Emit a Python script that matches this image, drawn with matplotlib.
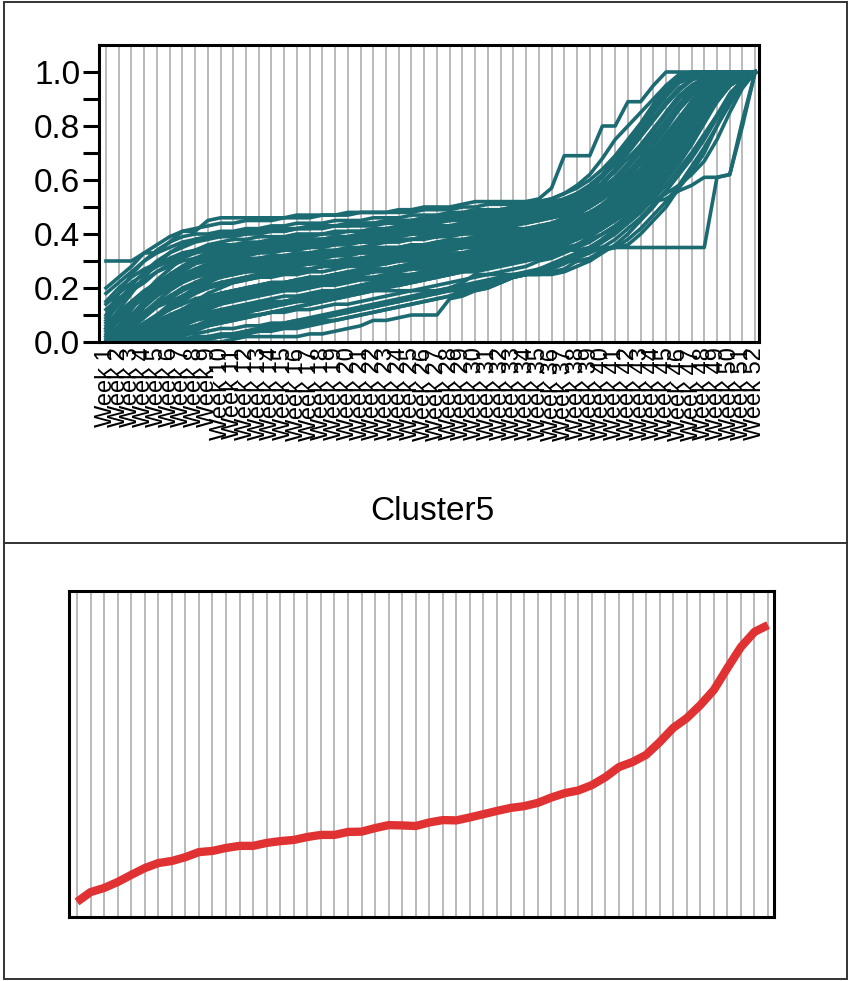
import matplotlib
matplotlib.use("Agg")
import matplotlib.pyplot as plt
from matplotlib.patches import Rectangle
from matplotlib.lines import Line2D

plt.rcParams["font.family"] = ["Liberation Sans", "DejaVu Sans"]

weeks = [f"Week {i}" for i in range(1, 53)]
cluster_title = "Cluster5"

# Normalised cumulative profiles of the cluster members (hundredths, weeks 1-52,
# one row of 13 weeks per line)
member_profiles = [
    [30, 30, 30, 33, 33, 37, 41, 41, 45, 46, 46, 46, 46,
     46, 46, 47, 47, 47, 47, 48, 48, 48, 48, 49, 49, 50,
     50, 50, 51, 52, 52, 52, 52, 52, 53, 57, 69, 69, 69,
     80, 80, 89, 89, 95, 100, 100, 100, 100, 100, 100, 100, 100],
    [20, 24, 28, 33, 36, 39, 41, 42, 43, 44, 44, 45, 45,
     45, 46, 46, 46, 47, 47, 47, 48, 48, 48, 48, 48, 49,
     49, 49, 50, 50, 51, 51, 51, 52, 52, 53, 55, 58, 62,
     68, 75, 80, 85, 90, 95, 97, 98, 98, 99, 99, 100, 100],
    [10, 18, 25, 30, 34, 37, 39, 40, 40, 41, 41, 42, 42,
     43, 43, 44, 44, 44, 45, 45, 45, 46, 46, 46, 47, 47,
     47, 48, 48, 49, 49, 49, 50, 50, 51, 52, 53, 55, 58,
     62, 68, 74, 80, 86, 92, 96, 98, 98, 98, 98, 99, 100],
    [5, 12, 18, 24, 29, 33, 36, 38, 39, 39, 40, 40, 41,
     41, 41, 42, 42, 42, 43, 43, 43, 43, 44, 44, 44, 45,
     45, 45, 46, 46, 47, 47, 48, 48, 49, 50, 51, 52, 54,
     57, 61, 66, 72, 78, 85, 91, 95, 97, 98, 99, 99, 100],
    [0, 6, 12, 18, 23, 27, 31, 34, 36, 37, 38, 38, 39,
     39, 39, 40, 40, 40, 41, 41, 41, 41, 42, 42, 42, 43,
     43, 43, 44, 44, 45, 45, 46, 46, 47, 48, 49, 50, 52,
     55, 58, 62, 67, 73, 79, 86, 92, 96, 98, 99, 100, 100],
    [8, 14, 19, 22, 26, 29, 31, 33, 34, 35, 35, 36, 36,
     36, 37, 37, 38, 38, 38, 39, 39, 39, 40, 40, 40, 41,
     41, 42, 42, 43, 43, 44, 44, 45, 46, 47, 48, 50, 53,
     58, 64, 71, 79, 86, 93, 98, 100, 100, 100, 100, 100, 100],
    [0, 3, 8, 13, 18, 22, 26, 29, 31, 32, 33, 34, 34,
     35, 35, 35, 36, 36, 36, 37, 37, 37, 38, 38, 38, 39,
     39, 39, 40, 40, 41, 41, 42, 42, 43, 44, 45, 46, 48,
     50, 53, 57, 61, 66, 72, 78, 84, 90, 95, 98, 99, 100],
    [2, 6, 10, 14, 18, 21, 24, 26, 28, 29, 30, 31, 31,
     32, 32, 33, 33, 33, 34, 34, 34, 35, 35, 35, 36, 36,
     37, 37, 38, 38, 39, 39, 40, 41, 42, 43, 44, 45, 47,
     49, 52, 55, 59, 64, 70, 76, 83, 89, 94, 97, 99, 100],
    [0, 2, 5, 9, 13, 16, 19, 22, 24, 26, 27, 28, 29,
     29, 30, 30, 31, 31, 32, 32, 33, 33, 33, 34, 34, 35,
     35, 36, 36, 37, 37, 38, 38, 39, 40, 41, 42, 43, 45,
     47, 50, 53, 57, 62, 68, 74, 80, 87, 93, 97, 99, 100],
    [0, 1, 3, 6, 9, 12, 15, 18, 20, 22, 23, 24, 25,
     26, 26, 27, 27, 28, 28, 29, 29, 30, 30, 31, 31, 32,
     32, 33, 33, 34, 35, 35, 36, 37, 38, 39, 40, 41, 43,
     45, 48, 51, 55, 60, 66, 72, 79, 86, 92, 96, 99, 100],
    [0, 0, 2, 4, 7, 10, 12, 14, 16, 18, 19, 20, 21,
     22, 22, 23, 24, 24, 25, 25, 26, 26, 27, 27, 28, 29,
     29, 30, 31, 31, 32, 33, 34, 35, 36, 37, 38, 40, 42,
     44, 47, 50, 54, 59, 65, 71, 78, 85, 91, 96, 99, 100],
    [0, 0, 1, 2, 4, 6, 8, 10, 12, 14, 15, 16, 17,
     18, 19, 19, 20, 21, 21, 22, 23, 23, 24, 25, 25, 26,
     27, 27, 28, 29, 30, 31, 32, 33, 34, 35, 36, 38, 40,
     42, 45, 48, 52, 57, 63, 69, 76, 83, 90, 95, 98, 100],
    [0, 0, 0, 1, 2, 3, 5, 6, 8, 9, 10, 11, 12,
     13, 14, 15, 15, 16, 17, 18, 19, 20, 21, 21, 22, 23,
     24, 25, 26, 27, 28, 29, 30, 31, 32, 33, 35, 36, 38,
     40, 43, 46, 50, 55, 61, 67, 74, 82, 89, 95, 98, 100],
    [0, 0, 0, 0, 0, 0, 0, 0, 0, 0, 1, 2, 2,
     2, 2, 2, 3, 3, 4, 5, 6, 8, 8, 9, 10, 10,
     10, 16, 17, 19, 20, 22, 24, 25, 25, 26, 27, 30, 31,
     34, 35, 36, 40, 45, 50, 57, 63, 70, 80, 90, 96, 100],
    [0, 0, 1, 1, 2, 3, 4, 5, 6, 7, 8, 9, 10,
     11, 12, 13, 14, 15, 16, 17, 18, 19, 20, 21, 22, 23,
     24, 25, 26, 27, 28, 29, 30, 31, 32, 33, 34, 34, 35,
     35, 35, 35, 35, 35, 35, 35, 35, 35, 61, 62, 82, 100],
    [0, 0, 0, 1, 1, 2, 3, 3, 4, 5, 5, 6, 6,
     7, 7, 8, 8, 9, 10, 11, 12, 13, 14, 15, 16, 17,
     18, 19, 19, 19, 20, 22, 24, 25, 25, 25, 26, 28, 30,
     33, 36, 40, 45, 50, 56, 62, 68, 75, 83, 91, 97, 100],
    [12, 16, 20, 23, 26, 28, 30, 31, 32, 33, 34, 34, 35,
     35, 36, 36, 37, 37, 38, 38, 38, 39, 39, 40, 40, 41,
     41, 42, 42, 43, 44, 44, 45, 46, 47, 48, 50, 52, 55,
     59, 64, 70, 76, 82, 88, 93, 97, 99, 100, 100, 100, 100],
    [4, 9, 14, 18, 21, 24, 27, 29, 30, 31, 32, 32, 33,
     33, 34, 34, 35, 35, 36, 36, 37, 37, 37, 38, 38, 39,
     39, 40, 40, 41, 41, 42, 43, 44, 45, 46, 47, 49, 51,
     54, 58, 63, 68, 74, 80, 86, 91, 95, 98, 99, 100, 100],
    [0, 4, 8, 11, 14, 17, 20, 22, 24, 25, 26, 27, 27,
     28, 28, 29, 29, 30, 30, 31, 31, 32, 32, 33, 33, 34,
     34, 35, 35, 36, 37, 37, 38, 39, 40, 41, 43, 44, 46,
     49, 52, 56, 61, 66, 72, 78, 85, 91, 96, 98, 99, 100],
    [0, 1, 4, 7, 10, 13, 16, 18, 20, 21, 22, 23, 24,
     24, 25, 25, 26, 26, 27, 28, 28, 29, 29, 30, 30, 31,
     31, 32, 33, 34, 34, 35, 36, 37, 38, 39, 41, 42, 44,
     47, 50, 54, 58, 63, 69, 75, 82, 88, 94, 97, 99, 100],
    [0, 0, 1, 3, 5, 8, 11, 13, 15, 17, 18, 19, 20,
     21, 21, 22, 22, 23, 24, 24, 25, 26, 26, 27, 28, 28,
     29, 30, 31, 32, 33, 34, 35, 36, 37, 38, 40, 42, 44,
     46, 49, 53, 57, 62, 68, 74, 81, 88, 94, 97, 99, 100],
    [0, 0, 0, 1, 3, 5, 7, 9, 11, 12, 13, 14, 15,
     16, 17, 17, 18, 19, 19, 20, 21, 22, 22, 23, 24, 25,
     26, 27, 28, 29, 30, 31, 32, 33, 35, 36, 38, 40, 42,
     45, 48, 52, 56, 61, 67, 73, 80, 87, 93, 97, 99, 100],
    [15, 20, 24, 27, 29, 31, 33, 34, 35, 36, 36, 37, 37,
     38, 38, 39, 39, 40, 40, 41, 41, 42, 42, 43, 43, 44,
     44, 45, 45, 46, 46, 47, 48, 49, 50, 51, 53, 55, 58,
     62, 66, 71, 77, 83, 89, 94, 97, 99, 100, 100, 100, 100],
    [6, 10, 13, 16, 19, 21, 23, 24, 25, 26, 27, 28, 28,
     29, 29, 30, 30, 31, 32, 32, 33, 33, 34, 34, 35, 35,
     36, 36, 37, 38, 38, 39, 40, 41, 42, 43, 45, 47, 50,
     53, 57, 62, 67, 73, 80, 87, 93, 97, 99, 100, 100, 100],
    [0, 2, 4, 7, 10, 12, 14, 16, 17, 18, 19, 20, 21,
     22, 22, 23, 24, 24, 25, 26, 26, 27, 27, 28, 29, 29,
     30, 31, 32, 32, 33, 34, 35, 36, 37, 38, 39, 41, 43,
     46, 49, 53, 58, 64, 70, 77, 84, 90, 95, 98, 99, 100],
    [0, 0, 0, 0, 1, 2, 3, 5, 7, 9, 10, 11, 12,
     13, 14, 15, 16, 17, 18, 19, 19, 20, 21, 22, 23, 24,
     25, 26, 27, 28, 29, 30, 31, 32, 33, 34, 36, 38, 40,
     42, 45, 49, 53, 58, 64, 71, 78, 85, 92, 96, 99, 100],
    [0, 0, 0, 0, 0, 1, 1, 2, 2, 3, 3, 4, 5,
     5, 6, 6, 7, 8, 8, 9, 10, 11, 12, 13, 14, 15,
     16, 17, 18, 20, 21, 22, 24, 25, 27, 29, 31, 33, 35,
     38, 41, 45, 49, 54, 60, 66, 73, 81, 89, 95, 98, 100],
    [0, 0, 1, 2, 3, 4, 5, 6, 7, 8, 9, 10, 10,
     11, 11, 12, 12, 13, 14, 14, 15, 16, 17, 18, 19, 20,
     21, 22, 23, 24, 25, 26, 27, 28, 30, 31, 33, 35, 37,
     40, 43, 47, 51, 56, 62, 68, 75, 83, 90, 95, 98, 100],
    [0, 1, 3, 5, 8, 10, 12, 14, 16, 18, 19, 20, 21,
     22, 22, 23, 23, 24, 25, 25, 26, 27, 27, 28, 29, 30,
     31, 31, 32, 33, 34, 35, 36, 37, 38, 39, 40, 42, 44,
     46, 48, 50, 51, 52, 53, 56, 58, 61, 61, 62, 80, 100],
    [0, 0, 0, 0, 0, 0, 0, 0, 1, 2, 3, 4, 5,
     6, 7, 8, 9, 10, 11, 12, 13, 14, 15, 16, 17, 18,
     19, 20, 21, 22, 23, 24, 25, 26, 27, 28, 30, 32, 34,
     37, 40, 44, 48, 53, 58, 64, 70, 77, 84, 91, 96, 100],
    [0, 0, 0, 0, 0, 1, 2, 4, 6, 8, 10, 12, 13,
     14, 15, 16, 17, 18, 19, 20, 21, 22, 23, 24, 25, 26,
     27, 28, 29, 30, 31, 32, 33, 34, 35, 36, 37, 39, 41,
     43, 46, 50, 55, 60, 66, 73, 80, 87, 93, 97, 99, 100],
    [18, 22, 26, 30, 33, 35, 37, 38, 39, 40, 40, 41, 41,
     42, 42, 42, 43, 43, 43, 44, 44, 44, 45, 45, 45, 46,
     46, 46, 47, 47, 48, 48, 49, 49, 50, 51, 52, 54, 57,
     61, 66, 72, 78, 85, 91, 96, 98, 99, 100, 100, 100, 100],
    [3, 8, 13, 17, 21, 25, 28, 31, 33, 34, 35, 36, 36,
     37, 37, 38, 38, 38, 39, 39, 40, 40, 40, 41, 41, 41,
     42, 42, 43, 43, 44, 44, 45, 46, 46, 47, 48, 50, 52,
     56, 60, 65, 71, 78, 84, 90, 94, 97, 99, 100, 100, 100],
    [0, 5, 10, 15, 20, 24, 27, 30, 32, 33, 34, 35, 35,
     36, 36, 37, 37, 37, 38, 38, 38, 39, 39, 39, 40, 40,
     40, 41, 41, 42, 42, 43, 44, 44, 45, 46, 47, 48, 50,
     53, 56, 60, 64, 69, 75, 81, 87, 92, 96, 98, 99, 100],
    [0, 0, 3, 6, 10, 14, 17, 20, 22, 24, 25, 26, 27,
     27, 28, 28, 29, 29, 30, 30, 31, 31, 32, 32, 33, 33,
     34, 34, 35, 35, 36, 36, 37, 38, 39, 40, 41, 43, 45,
     48, 51, 55, 60, 66, 72, 79, 86, 92, 96, 98, 99, 100],
    [0, 2, 6, 11, 15, 19, 22, 24, 26, 27, 28, 29, 30,
     30, 31, 31, 32, 32, 33, 33, 34, 34, 35, 35, 36, 36,
     37, 38, 38, 39, 40, 40, 41, 42, 43, 44, 46, 48, 50,
     53, 57, 61, 66, 71, 77, 83, 89, 94, 97, 99, 100, 100],
    [1, 4, 7, 10, 13, 15, 17, 19, 21, 22, 23, 24, 25,
     25, 26, 27, 27, 28, 28, 29, 30, 30, 31, 31, 32, 33,
     33, 34, 35, 35, 36, 37, 38, 39, 40, 41, 42, 44, 46,
     48, 51, 55, 60, 65, 71, 78, 85, 91, 95, 98, 99, 100],
    [0, 0, 0, 2, 4, 6, 9, 11, 13, 15, 16, 17, 18,
     19, 19, 20, 21, 22, 22, 23, 24, 24, 25, 26, 27, 27,
     28, 29, 30, 31, 32, 33, 34, 35, 36, 37, 39, 41, 43,
     45, 48, 52, 56, 61, 66, 72, 79, 86, 92, 96, 99, 100],
    [0, 0, 0, 0, 2, 4, 6, 8, 9, 10, 11, 12, 13,
     14, 15, 16, 16, 17, 18, 19, 20, 21, 22, 23, 24, 25,
     26, 27, 28, 29, 30, 31, 32, 33, 34, 36, 37, 39, 41,
     44, 47, 51, 55, 60, 65, 71, 77, 84, 91, 96, 99, 100],
    [0, 0, 0, 0, 0, 0, 1, 1, 2, 2, 3, 3, 4,
     4, 5, 5, 6, 7, 8, 9, 10, 11, 12, 13, 14, 15,
     16, 17, 19, 20, 22, 23, 24, 25, 26, 27, 29, 31, 33,
     35, 38, 42, 46, 51, 56, 62, 69, 76, 84, 92, 97, 100],
    [0, 0, 0, 1, 2, 3, 4, 5, 6, 7, 8, 9, 10,
     11, 12, 13, 14, 15, 16, 17, 18, 19, 19, 19, 19, 19,
     19, 20, 22, 25, 25, 25, 25, 25, 26, 28, 30, 30, 30,
     34, 35, 38, 42, 47, 52, 58, 65, 72, 80, 88, 95, 100],
    [9, 15, 21, 26, 30, 33, 35, 37, 38, 39, 39, 40, 40,
     41, 41, 42, 42, 43, 43, 43, 44, 44, 44, 45, 45, 46,
     46, 47, 47, 48, 48, 49, 50, 51, 52, 53, 55, 57, 60,
     64, 69, 75, 81, 88, 95, 99, 100, 100, 100, 100, 100, 100],
    [14, 18, 22, 25, 28, 30, 32, 33, 34, 35, 35, 36, 36,
     37, 37, 38, 38, 38, 39, 39, 40, 40, 41, 41, 42, 42,
     43, 43, 44, 45, 45, 46, 47, 48, 49, 50, 52, 54, 57,
     61, 67, 73, 80, 87, 93, 97, 99, 100, 100, 100, 100, 100],
    [0, 1, 2, 4, 6, 8, 10, 12, 14, 15, 16, 17, 18,
     19, 20, 21, 22, 23, 23, 24, 25, 26, 27, 28, 28, 29,
     30, 31, 32, 33, 34, 35, 36, 37, 38, 40, 42, 44, 47,
     50, 54, 58, 63, 68, 74, 80, 86, 92, 96, 98, 99, 100],
    [0, 0, 1, 3, 6, 9, 12, 15, 18, 20, 22, 23, 24,
     25, 26, 26, 27, 28, 29, 29, 30, 31, 31, 32, 33, 33,
     34, 35, 35, 36, 37, 38, 39, 40, 41, 42, 44, 46, 48,
     51, 55, 59, 64, 70, 76, 82, 88, 93, 97, 99, 100, 100],
    [5, 9, 13, 17, 20, 23, 25, 27, 29, 30, 31, 32, 33,
     34, 34, 35, 35, 36, 37, 37, 38, 38, 39, 40, 40, 41,
     41, 42, 43, 43, 44, 45, 46, 47, 48, 49, 51, 53, 56,
     59, 63, 68, 73, 79, 85, 91, 95, 98, 99, 100, 100, 100],
    [0, 0, 2, 4, 6, 8, 10, 12, 14, 16, 17, 18, 19,
     20, 21, 22, 23, 24, 25, 26, 27, 28, 29, 30, 31, 32,
     33, 34, 35, 36, 37, 38, 39, 40, 41, 42, 43, 44, 45,
     46, 47, 48, 50, 52, 55, 58, 62, 67, 75, 85, 94, 100],
    [0, 3, 7, 11, 14, 17, 19, 21, 23, 24, 25, 26, 26,
     27, 27, 28, 29, 29, 30, 30, 31, 32, 32, 33, 33, 34,
     35, 35, 36, 37, 37, 38, 39, 40, 41, 42, 43, 45, 47,
     50, 53, 57, 62, 67, 73, 80, 86, 92, 96, 98, 99, 100],
    [0, 0, 0, 0, 0, 0, 0, 1, 1, 2, 2, 3, 4,
     5, 6, 7, 8, 9, 10, 11, 12, 13, 14, 15, 16, 17,
     18, 19, 20, 21, 22, 23, 24, 25, 27, 28, 30, 32, 35,
     38, 42, 46, 51, 56, 62, 68, 75, 82, 89, 95, 98, 100],
    [2, 5, 9, 13, 17, 20, 23, 25, 27, 28, 29, 30, 31,
     31, 32, 32, 33, 34, 34, 35, 35, 36, 37, 37, 38, 38,
     39, 40, 40, 41, 42, 43, 44, 45, 46, 47, 48, 50, 52,
     55, 59, 63, 68, 74, 80, 87, 93, 97, 99, 100, 100, 100],
    [0, 0, 0, 1, 2, 4, 6, 8, 10, 11, 12, 13, 14,
     15, 15, 16, 17, 17, 18, 19, 19, 20, 21, 21, 22, 23,
     24, 25, 26, 26, 27, 28, 29, 30, 31, 32, 34, 36, 39,
     42, 46, 50, 54, 59, 64, 70, 76, 83, 90, 95, 98, 100],
    [0, 1, 2, 3, 5, 7, 9, 11, 13, 14, 16, 17, 18,
     19, 20, 21, 22, 22, 23, 24, 25, 26, 27, 27, 28, 29,
     30, 31, 32, 33, 33, 34, 35, 36, 37, 38, 39, 41, 43,
     46, 50, 55, 61, 68, 75, 82, 89, 94, 97, 99, 100, 100],
    [7, 11, 15, 19, 22, 25, 28, 30, 31, 32, 33, 33, 34,
     34, 35, 35, 36, 36, 37, 37, 38, 38, 39, 39, 40, 40,
     41, 41, 42, 42, 43, 44, 45, 46, 47, 48, 49, 51, 53,
     56, 60, 65, 70, 76, 82, 88, 93, 97, 99, 100, 100, 100],
]

# Cluster centroid (weeks 1-52)
centroid = [0.051, 0.084, 0.098, 0.118, 0.142, 0.165, 0.182, 0.189, 0.202, 0.219, 0.223, 0.233, 0.240,
            0.240, 0.250, 0.256, 0.260, 0.270, 0.277, 0.277, 0.287, 0.288, 0.300, 0.310, 0.309, 0.307,
            0.319, 0.327, 0.326, 0.336, 0.347, 0.358, 0.368, 0.374, 0.385, 0.403, 0.418, 0.427, 0.445,
            0.472, 0.506, 0.523, 0.547, 0.590, 0.638, 0.671, 0.715, 0.766, 0.840, 0.911, 0.962, 0.985]

x = list(range(1, 53))
fig = plt.figure(figsize=(8.49, 9.81), dpi=100)

# Panel frames
fig.add_artist(Rectangle((4/849, 2/981), 843/849, 977/981, transform=fig.transFigure,
                         fill=False, edgecolor="#333333", linewidth=1.4))
fig.add_artist(Line2D([4/849, 847/849], [(981-543)/981]*2, transform=fig.transFigure,
                      color="#333333", linewidth=1.4))

grid_col = "#b4b4b4"

# Member profiles
ax1 = fig.add_axes([99/849, (981-342)/981, 660/849, 297/981])
for xi in x:
    ax1.axvline(xi, color=grid_col, linewidth=1.3, zorder=0)
for prof in member_profiles:
    ax1.plot(x, [v / 100 for v in prof], color="#1c6b72", linewidth=2.6, zorder=2)
ax1.set_xlim(0.45, 52.3)
ax1.set_ylim(0, 1.1)
ax1.set_xticks(x)
ax1.set_xticklabels(weeks, rotation=90, fontsize=17, va="top", ha="center")
ax1.tick_params(axis="x", length=0, pad=4)
ax1.set_yticks([0.0, 0.2, 0.4, 0.6, 0.8, 1.0])
ax1.set_yticklabels(["0.0", "0.2", "0.4", "0.6", "0.8", "1.0"], fontsize=24)
ax1.set_yticks([0.1, 0.3, 0.5, 0.7, 0.9], minor=True)
ax1.tick_params(axis="y", which="both", direction="out", length=11.5, width=2.2, pad=2)
for sp in ax1.spines.values():
    sp.set_linewidth(2.2)
fig.text(432/849, (981-512)/981, cluster_title, fontsize=24, ha="center", va="center")

# Centroid
ax2 = fig.add_axes([69/849, (981-917)/981, 705/849, 326/981])
for xi in x:
    ax2.axvline(xi, color=grid_col, linewidth=1.3, zorder=0)
ax2.plot(x, centroid, color="#e03232", linewidth=6, solid_capstyle="butt", zorder=2)
ax2.set_xlim(0.41, 52.44)
ax2.set_ylim(0, 1.1)
ax2.set_xticks([])
ax2.set_yticks([])
for sp in ax2.spines.values():
    sp.set_linewidth(2.2)

fig.savefig("out.png", dpi=100)
